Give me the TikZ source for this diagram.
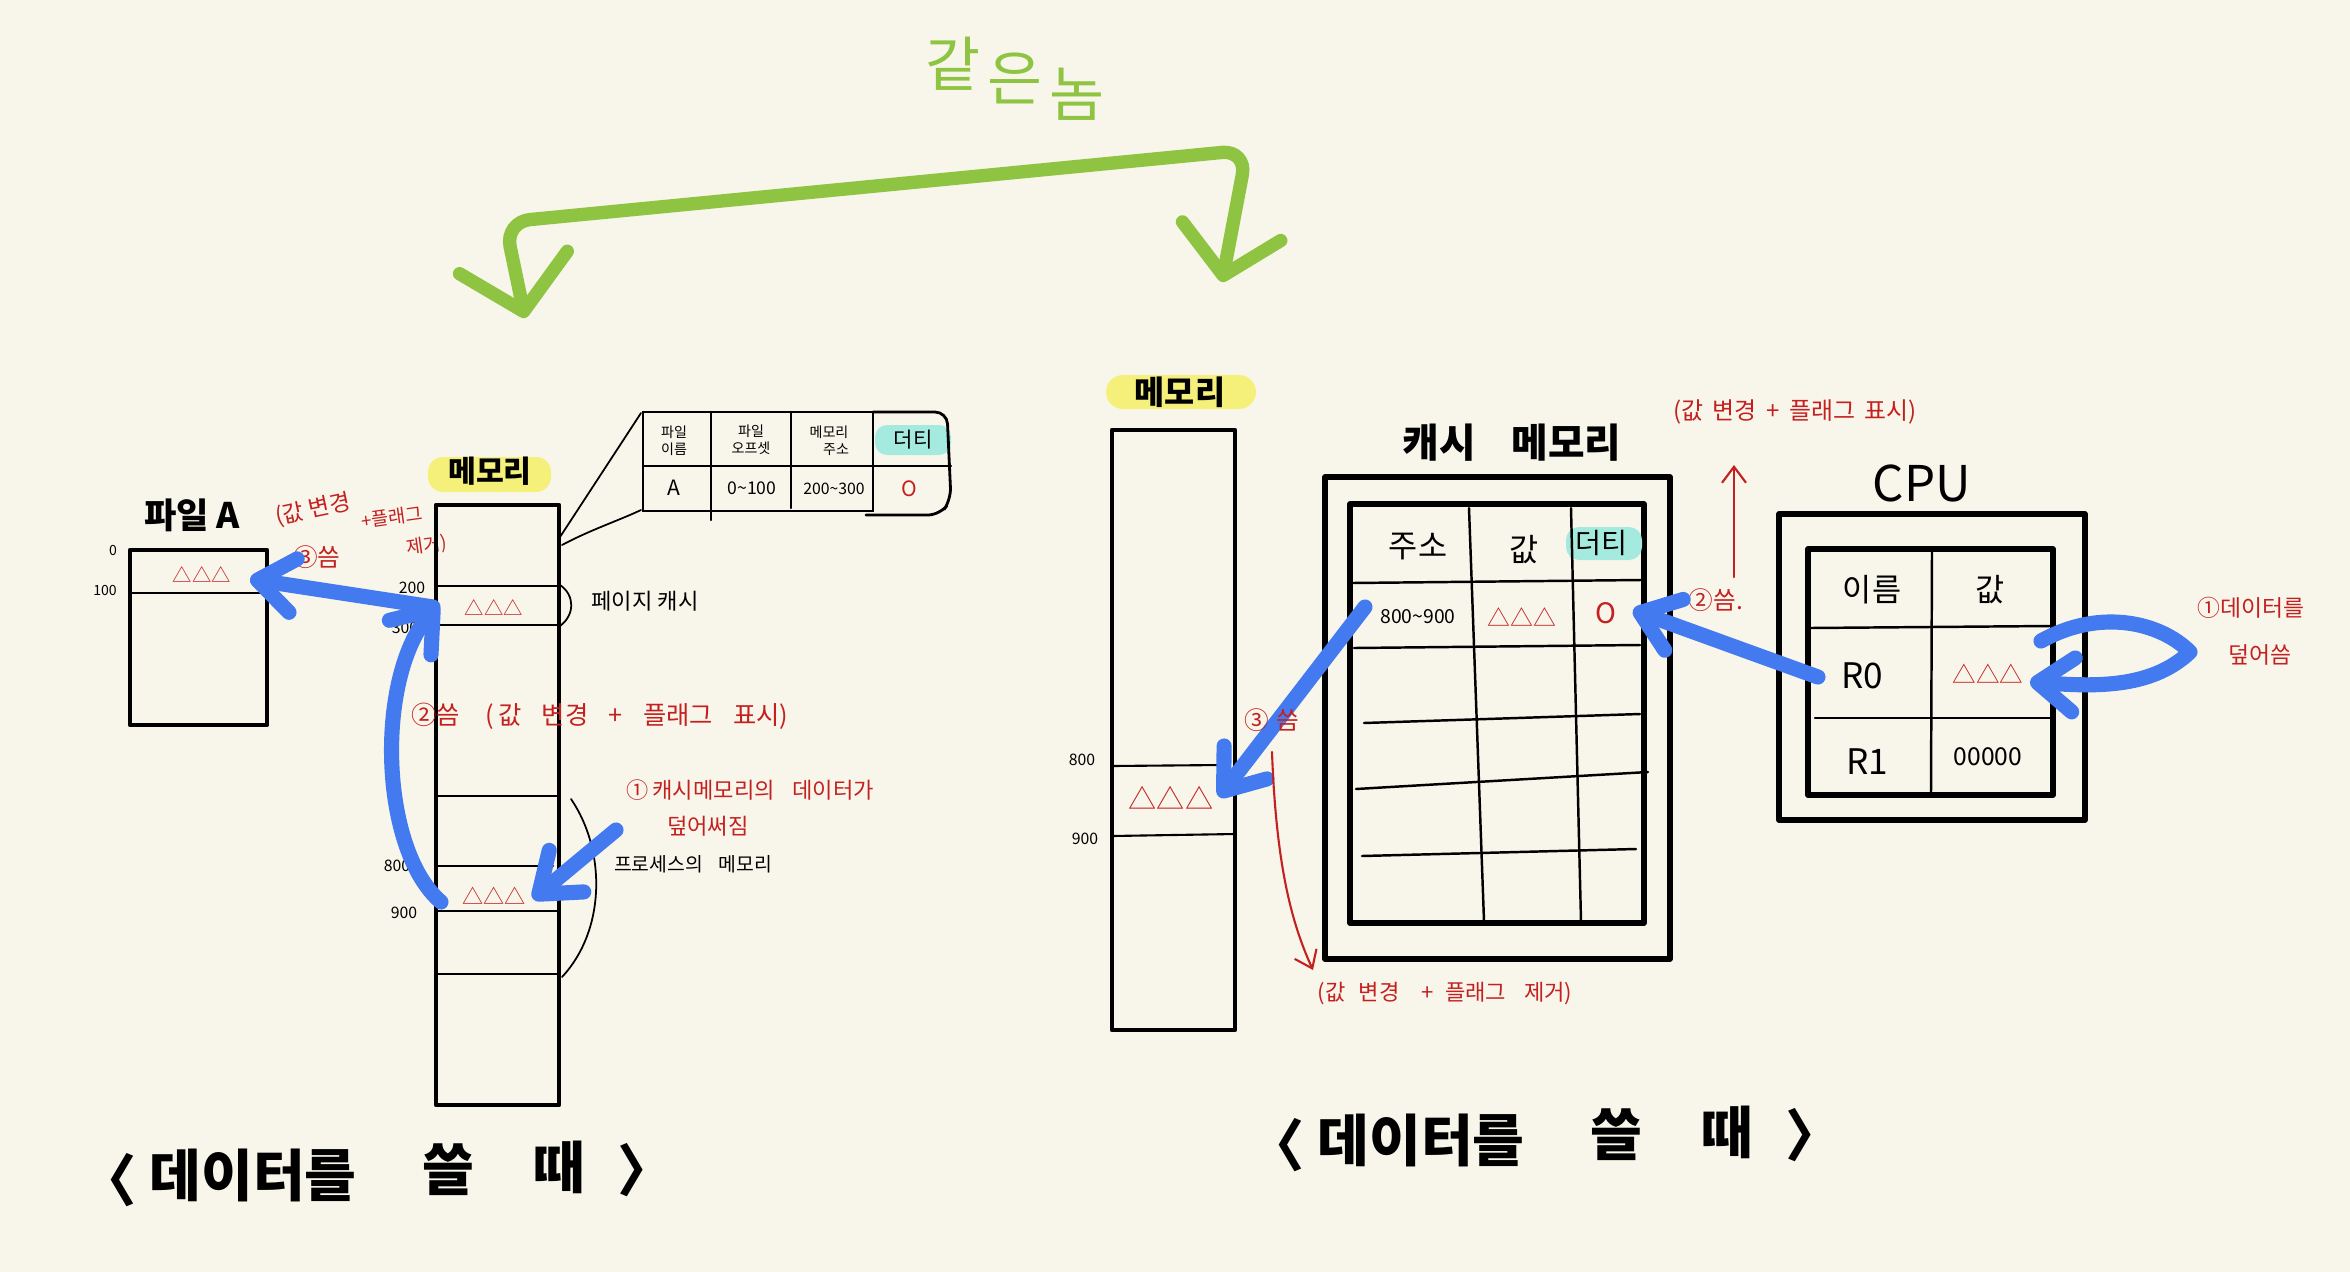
\documentclass[tikz,border=0pt]{standalone}
\usepackage{fontspec}
\setmainfont{Noto Sans CJK KR}
\usetikzlibrary{arrows.meta}
\definecolor{bgc}{RGB}{248,246,234}
\definecolor{redc}{RGB}{196,32,32}
\definecolor{bluec}{RGB}{68,122,240}
\definecolor{greenc}{RGB}{143,196,66}
\definecolor{yellowc}{RGB}{245,240,122}
\definecolor{cyanc}{RGB}{164,234,222}
\newcommand\myfs[1]{\fontsize{#1}{\dimexpr#1pt*6/5\relax}\selectfont}
\begin{document}
\begin{tikzpicture}[x=0.01cm,y=-0.01cm,
  every node/.style={inner sep=0pt, outer sep=0pt},
  boxline/.style={draw=black, line width=1.2pt, line join=round},
  gridline/.style={draw=black, line width=0.6pt, line cap=round},
  thinblk/.style={draw=black, line width=0.5pt, line cap=round},
  redtxt/.style={text=redc},
  titletxt/.style={font=\myfs{16}\bfseries},
  greentxt/.style={text=greenc, font=\myfs{17}},
  bluearrow/.style={draw=bluec, line width=4.3pt, line cap=round, line join=round,
     -{Straight Barb[length=3.6mm, width=5.4mm, round]}},
  redarrow/.style={draw=redc, line width=0.6pt, line cap=round,
     -{Straight Barb[length=1.6mm, width=2.4mm]}},
  greenarrow/.style={draw=greenc, line width=3.8pt, line cap=round, rounded corners=0.25cm,
     {Straight Barb[length=5mm, width=11mm, round]}-{Straight Barb[length=4.5mm, width=10mm, round]}}
]
\useasboundingbox (0,0) rectangle (2350,1272);
\fill[bgc] (0,0) rectangle (2350,1272);

% ---------- title green ----------
\node[greentxt] (same1) at (953,64) {같};
\node[greentxt] (same2) at (1015,78) {은};
\node[greentxt] (same3) at (1077,94) {놈};
\coordinate (gL) at (525,318);
\coordinate (gLc) at (505,222);
\coordinate (gRc) at (1247,150);
\coordinate (gR) at (1222,282);
\draw[greenarrow] (gL) -- (gLc) -- (gRc) -- (gR);

% ---------- left: file A ----------
\node[font=\myfs{10}\bfseries] (fileA) at (192,515) {파일 A};
\node[font=\myfs{4}] (off0) at (113,550) {0};
\node[font=\myfs{4}] (off100) at (105,590) {100};
\draw[boxline] (130,550) coordinate (fileAnw) rectangle (267,725) coordinate (fileAse);
\draw[gridline] (130,593) -- (267,593);
\node[redtxt, font=\myfs{5.5}] (triA) at (202,575) {△△△};
\node[redtxt, font=\myfs{6.5}, rotate=12] (noteA1) at (313,510) {(값 변경};
\node[redtxt, font=\myfs{5.3}, rotate=8] (noteA2) at (392,517) {+플래그};
\node[redtxt, font=\myfs{5.3}, rotate=8] (noteA3) at (427,546) {제거)};
\node[redtxt, font=\myfs{7}] (noteA4) at (317,557) {③씀};

% ---------- left: memory ----------
\fill[yellowc, rounded corners=0.15cm] (428,457) rectangle (551,492);
\node[font=\myfs{8.6}\bfseries] (memL) at (490,471) {메모리};
\draw[boxline] (436,505) rectangle (559,1105);
\draw[gridline] (436,586) -- (559,586);
\draw[gridline] (436,625) -- (559,625);
\draw[gridline] (436,796) -- (559,796);
\draw[gridline] (436,866) -- (553,866);
\draw[gridline] (436,911) -- (559,911);
\draw[gridline] (436,974) -- (559,974);
\node[font=\myfs{4.5}] (a200) at (412,588) {200};
\node[font=\myfs{4.5}] (a300) at (405,628) {300};
\node[font=\myfs{4.5}] (a800) at (397,866) {800};
\node[font=\myfs{4.5}] (a900) at (404,913) {900};
\node[redtxt, font=\myfs{5.5}] (triPC) at (494,607) {△△△};
\node[redtxt, font=\myfs{6}] (tri9) at (494,896) {△△△};
\draw[thinblk] (560,585) .. controls (575,595) and (575,615) .. (560,626);
\node[font=\myfs{6.3}] (pcache) at (645,601) {페이지 캐시};
\draw[thinblk] (560,537) -- (641,413);
\draw[thinblk] (562,545) .. controls (590,530) and (620,520) .. (641,510);

% table
\fill[cyanc, rounded corners=0.12cm] (875,425) rectangle (951,455);
\draw[gridline, line width=0.8pt] (643,412) rectangle (873,511);
\draw[gridline] (711,412) -- (711,520);
\draw[gridline] (791,412) -- (791,508);
\draw[gridline] (643,466) -- (951,466);
\draw[gridline, line width=0.8pt, rounded corners=0.12cm] (873,412) -- (947,412) -- (951,500) -- (940,515) -- (866,515);
\node[font=\myfs{4}, align=center] (th1) at (674,441) {파일\\이름};
\node[font=\myfs{4}, align=center] (th2) at (751,440) {파일\\오프셋};
\node[font=\myfs{4}, align=center] (th3) at (829,441) {메모리\\\hspace{1em}주소};
\node[font=\myfs{6}] (th4) at (913,440) {더티};
\node[font=\myfs{6}] (td1) at (674,488) {A};
\node[font=\myfs{5}] (td2) at (752,488) {0\textasciitilde100};
\node[font=\myfs{4.5}] (td3) at (834,489) {200\textasciitilde300};
\node[redtxt, font=\myfs{6}] (td4) at (909,489) {O};

% red notes left
\node[redtxt, font=\myfs{7.2}] (note2) at (600,716) {②씀\hspace{1em}(\,값\hspace{0.8em}변경\hspace{0.8em}+\hspace{0.8em}플래그\hspace{0.8em}표시)};
\node[redtxt, font=\myfs{6.3}, anchor=west] (note1a) at (626,790) {①\hspace{0.2em}캐시메모리의\hspace{0.8em}데이터가};
\node[redtxt, font=\myfs{6.3}, anchor=west] (note1b) at (667,826) {덮어써짐};
\node[font=\myfs{5.5}, anchor=west] (procmem) at (614,864) {프로세스의\hspace{0.8em}메모리};
\draw[thinblk] (571,799) .. controls (606,850) and (606,930) .. (562,977);

% blue arrows left
\coordinate (pcL) at (433,607);
\coordinate (fileAtip) at (250,579);
\draw[bluearrow] (pcL) -- (fileAtip);
\coordinate (row9L) at (441,902);
\coordinate (pcL2) at (438,604);
\draw[bluearrow] (row9L) .. controls (380,850) and (375,680) .. (pcL2);
\coordinate (note1tail) at (616,830);
\coordinate (row9tri) at (533,899);
\draw[bluearrow] (note1tail) -- (row9tri);

% ---------- right: memory ----------
\fill[yellowc, rounded corners=0.17cm] (1106,375) rectangle (1256,409);
\node[font=\myfs{9.3}\bfseries] (memR) at (1180,392) {메모리};
\draw[boxline] (1112,430) rectangle (1235,1030);
\draw[gridline] (1112,766) -- (1222,765);
\draw[gridline] (1112,836) -- (1235,834);
\node[font=\myfs{4.5}] (b800) at (1082,760) {800};
\node[font=\myfs{4.5}] (b900) at (1085,839) {900};
\node[redtxt, font=\myfs{8}] (triR) at (1171,798) {△△△};

% ---------- right: cache ----------
\node[font=\myfs{11.3}\bfseries] (cacheT) at (1512,443) {캐시\hspace{0.9em}메모리};
\draw[boxline, line width=1.5pt] (1325,477) rectangle (1670,959);
\draw[boxline, line width=1.5pt] (1350,504) rectangle (1644,923);
\fill[cyanc, rounded corners=0.13cm] (1566,527) rectangle (1642,560);
\draw[gridline, line width=0.7pt] (1469,508) -- (1484,921);
\draw[gridline, line width=0.7pt] (1571,508) -- (1581,921);
\draw[gridline, line width=0.7pt] (1352,583) -- (1641,580);
\draw[gridline, line width=0.7pt] (1354,648) -- (1640,645);
\draw[gridline, line width=0.7pt] (1364,723) -- (1640,714);
\draw[gridline, line width=0.7pt] (1356,789) -- (1648,772);
\draw[gridline, line width=0.7pt] (1362,856) -- (1636,849);
\node[font=\myfs{9}] (ch1) at (1418,547) {주소};
\node[font=\myfs{9}] (ch2) at (1524,550) {값};
\node[font=\myfs{8}] (ch3) at (1601,543) {더티};
\node[font=\myfs{5.5}] (cd1) at (1418,617) {800\textasciitilde900};
\node[redtxt, font=\myfs{6.5}] (cd2) at (1522,617) {△△△};
\node[redtxt, font=\myfs{8}] (cd3) at (1606,613) {O};

\coordinate (cacheAddr) at (1365,607);
\coordinate (memRtip) at (1219,797);
\draw[bluearrow] (cacheAddr) -- (memRtip);
\node[redtxt, font=\myfs{7}] (note3R) at (1272,720) {③\hspace{0.3em}씀};
\coordinate (r2s) at (1272,752);
\coordinate (r2e) at (1313,970);
\draw[redarrow] (r2s) .. controls (1276,860) and (1290,920) .. (r2e);
\node[redtxt, font=\myfs{6.3}] (noteR3) at (1445,993) {(값\hspace{0.6em}변경\hspace{1em}+\hspace{0.5em}플래그\hspace{0.8em}제거)};

\node[redtxt, font=\myfs{7}] (noteR2a) at (1716,600) {②씀.};
\coordinate (r1s) at (1734,577);
\coordinate (r1e) at (1734,465);
\draw[redarrow] (r1s) -- (r1e);
\node[redtxt, font=\myfs{6.8}] (noteR2) at (1795,412) {(값\hspace{0.4em}변경\hspace{0.4em}+\hspace{0.4em}플래그\hspace{0.4em}표시)};

% ---------- CPU ----------
\node[font=\myfs{14}] (cpuT) at (1922,483) {CPU};
\draw[boxline, line width=1.5pt] (1779,514) rectangle (2085,820);
\draw[boxline, line width=1.5pt] (1808,549) rectangle (2053,795);
\draw[gridline, line width=0.7pt] (1932,552) -- (1931,792);
\draw[gridline, line width=0.7pt] (1810,628) -- (2050,626);
\draw[gridline, line width=0.7pt] (1815,718) -- (2050,718);
\node[font=\myfs{9}] (cpuH1) at (1872,590) {이름};
\node[font=\myfs{9}] (cpuH2) at (1990,590) {값};
\node[font=\myfs{10}] (r0) at (1862,676) {R0};
\node[redtxt, font=\myfs{6.7}] (r0v) at (1988,674) {△△△};
\node[font=\myfs{10}] (r1) at (1867,762) {R1};
\node[font=\myfs{7}] (r1v) at (1988,757) {00000};

\coordinate (r0tail) at (1818,677);
\coordinate (cacheDirty) at (1633,610);
\draw[bluearrow] (r0tail) -- (cacheDirty);
\coordinate (loopS) at (2041,641);
\coordinate (loopM) at (2190,652);
\coordinate (loopE) at (2030,682);
\draw[bluearrow] (loopS) .. controls (2100,608) and (2160,622) .. (loopM) .. controls (2150,690) and (2090,686) .. (loopE);
\node[redtxt, font=\myfs{6.5}] (noteC1) at (2251,608) {①데이터를};
\node[redtxt, font=\myfs{6.5}] (noteC2) at (2260,655) {덮어씀};

% ---------- bottom titles ----------
\node[titletxt, anchor=east] (tL0) at (137,1180) {〈};
\node[titletxt] (tL1) at (253,1175) {데이터를};
\node[titletxt] (tL2) at (448,1170) {쓸};
\node[titletxt] (tL3) at (559,1167) {때};
\node[titletxt, anchor=west] (tL4) at (617,1170) {〉};
\node[titletxt, anchor=east] (tR0) at (1305,1145) {〈};
\node[titletxt] (tR1) at (1421,1140) {데이터를};
\node[titletxt] (tR2) at (1616,1135) {쓸};
\node[titletxt] (tR3) at (1727,1132) {때};
\node[titletxt, anchor=west] (tR4) at (1785,1135) {〉};
\end{tikzpicture}
\end{document}
